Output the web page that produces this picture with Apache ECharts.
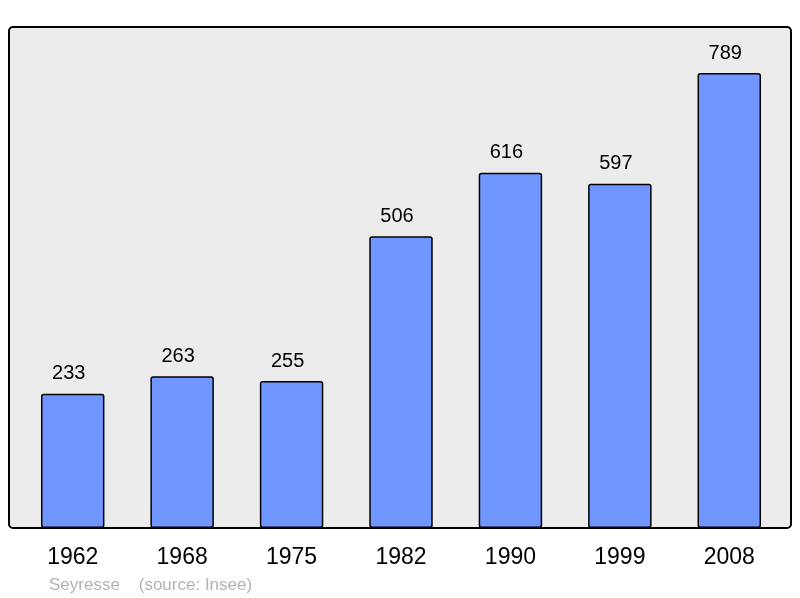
<!DOCTYPE html>
<html><head><meta charset="utf-8">
<script src="https://cdn.jsdelivr.net/npm/echarts@6/dist/echarts.min.js"></script>
<style>html,body{margin:0;padding:0;background:#fff}#c{width:800px;height:598px}</style>
</head><body><div id="c"></div>
<script>
const categories = ['1962','1968','1975','1982','1990','1999','2008'];
const population = [233,263,255,506,616,597,789];
const chart = echarts.init(document.getElementById('c'));
chart.setOption({
  animation:false,
  backgroundColor:'#fff',
  grid:{left:18,right:16,top:27,bottom:70},
  graphic:[
    {type:'rect',z:-10,silent:true,shape:{x:9,y:27,width:782,height:501,r:4},style:{fill:'#ececec',stroke:'#000',lineWidth:2}},
    {type:'text',left:49,top:577,style:{text:'Seyresse    (source: Insee)',fill:'#b3b3b3',font:'17px "Liberation Sans", Arial, sans-serif'}}
  ],
  xAxis:{type:'category',data:categories,axisLine:{show:false},axisTick:{show:false},
    axisLabel:{color:'#000',fontSize:23,fontFamily:'"Liberation Sans", Arial, sans-serif',margin:18}},
  yAxis:{type:'value',min:0,max:869,show:false,splitLine:{show:false}},
  series:[{type:'bar',data:population,barWidth:'58%',
    itemStyle:{color:'#7096ff',borderColor:'#000',borderWidth:1.5,borderRadius:2},
    label:{show:true,position:'top',distance:10,offset:[-4,0],color:'#000',fontSize:20,fontFamily:'"Liberation Sans", Arial, sans-serif'}}]
});
</script></body></html>
